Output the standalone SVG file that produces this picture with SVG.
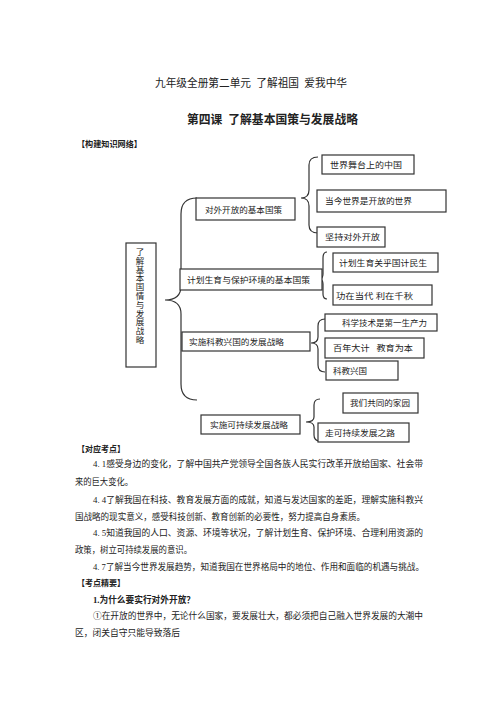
<svg xmlns="http://www.w3.org/2000/svg" width="500" height="707" viewBox="0 0 500 707">
<style>
text{font-family:"Liberation Serif","Noto Sans CJK SC",serif;fill:#222;}
.t{font-size:8.5px;}
.b{font-weight:bold;}
.box{fill:#fff;stroke:#333;stroke-width:1.2;}
.br{fill:none;stroke:#333;stroke-width:1.2;}
.p{font-size:8.8px;}
</style>
<rect width="500" height="707" fill="#fff"/>
<g id="title">
<text x="155" y="87" font-size="11" textLength="192" lengthAdjust="spacingAndGlyphs" xml:space="preserve">九年级全册第二单元  了解祖国  爱我中华</text>
<text x="187" y="124" font-size="12" class="b" textLength="171" lengthAdjust="spacingAndGlyphs" xml:space="preserve">第四课  了解基本国策与发展战略</text>
<text x="77" y="147" font-size="8.5" class="b" textLength="65" lengthAdjust="spacingAndGlyphs">【构建知识网络】</text>
</g>
<g id="connectors">
<path class="br" d="M197,198 Q181,198 181,214 L181,286 Q181,300 165,300 Q181,300 181,314 L181,384 Q181,400 197,400"/>
<path class="br" d="M318,157 Q309,157 309,165 L309,190 Q309,198 301,198 Q309,198 309,206 L309,225 Q309,233 318,233"/>
<path class="br" d="M327,252 Q323,252 323,258 L323,274 Q323,279 319,279 Q323,279 323,284 L323,294 Q323,299 327,299"/>
<path class="br" d="M325,319 Q318,319 318,326 L318,337 Q318,343 311,343 Q318,343 318,349 L318,365 Q318,372 325,372"/>
<path class="br" d="M320,399 Q314,399 314,405 L314,417 Q314,422 306,422 Q314,422 314,427 L314,435 Q314,441 320,441"/>
</g>
<g id="root">
<rect class="box" x="126" y="243" width="30" height="124"/>
<text class="t" text-anchor="middle"><tspan x="140" y="255">了</tspan><tspan x="140" dy="8.8">解</tspan><tspan x="140" dy="8.8">基</tspan><tspan x="140" dy="8.8">本</tspan><tspan x="140" dy="8.8">国</tspan><tspan x="140" dy="8.8">情</tspan><tspan x="140" dy="8.8">与</tspan><tspan x="140" dy="8.8">发</tspan><tspan x="140" dy="8.8">展</tspan><tspan x="140" dy="8.8">战</tspan><tspan x="140" dy="8.8">略</tspan></text>
</g>
<g id="n1">
<rect class="box" x="196" y="198" width="99" height="22"/>
<text class="t" x="205" y="213" textLength="77" lengthAdjust="spacingAndGlyphs">对外开放的基本国策</text>
</g>
<g id="n2">
<rect class="box" x="180" y="269" width="142" height="21"/>
<text class="t" x="187" y="283" textLength="123" lengthAdjust="spacingAndGlyphs">计划生育与保护环境的基本国策</text>
</g>
<g id="n3">
<rect class="box" x="182" y="332" width="128" height="19"/>
<text class="t" x="189" y="345" textLength="95" lengthAdjust="spacingAndGlyphs">实施科教兴国的发展战略</text>
</g>
<g id="n4">
<rect class="box" x="201" y="415" width="99" height="19"/>
<text class="t" x="210" y="428" textLength="78" lengthAdjust="spacingAndGlyphs">实施可持续发展战略</text>
</g>
<g id="n1a">
<rect class="box" x="322" y="155" width="92" height="19"/>
<text class="t" x="330" y="168" textLength="72" lengthAdjust="spacingAndGlyphs">世界舞台上的中国</text>
</g>
<g id="n1b">
<rect class="box" x="317" y="190" width="129" height="22"/>
<text class="t" x="325" y="204" textLength="87" lengthAdjust="spacingAndGlyphs">当今世界是开放的世界</text>
</g>
<g id="n1c">
<rect class="box" x="317" y="227" width="68" height="20"/>
<text class="t" x="325" y="240" textLength="55" lengthAdjust="spacingAndGlyphs">坚持对外开放</text>
</g>
<g id="n2a">
<rect class="box" x="333" y="253" width="105" height="19"/>
<text class="t" x="339" y="266" textLength="88" lengthAdjust="spacingAndGlyphs">计划生育关乎国计民生</text>
</g>
<g id="n2b">
<rect class="box" x="333" y="285" width="99" height="20"/>
<text class="t" x="336" y="299" textLength="77" lengthAdjust="spacingAndGlyphs" xml:space="preserve">功在当代 利在千秋</text>
</g>
<g id="n3a">
<rect class="box" x="325" y="314" width="112" height="17"/>
<text class="t" x="342" y="326" textLength="85" lengthAdjust="spacingAndGlyphs">科学技术是第一生产力</text>
</g>
<g id="n3b">
<rect class="box" x="325" y="338" width="99" height="20"/>
<text class="t" x="333" y="351" textLength="80" lengthAdjust="spacingAndGlyphs" xml:space="preserve">百年大计   教育为本</text>
</g>
<g id="n3c">
<rect class="box" x="326" y="361" width="72" height="19"/>
<text class="t" x="333" y="374" textLength="34" lengthAdjust="spacingAndGlyphs">科教兴国</text>
</g>
<g id="n4a">
<rect class="box" x="343" y="393" width="75" height="20"/>
<text class="t" x="350" y="406" textLength="60" lengthAdjust="spacingAndGlyphs">我们共同的家园</text>
</g>
<g id="n4b">
<rect class="box" x="318" y="423" width="91" height="19"/>
<text class="t" x="325" y="436" textLength="70" lengthAdjust="spacingAndGlyphs">走可持续发展之路</text>
</g>
<g id="body">
<text x="77" y="452" font-size="8.5" class="b" textLength="48" lengthAdjust="spacingAndGlyphs">【对应考点】</text>
<text class="p" x="93" y="467" textLength="330" lengthAdjust="spacingAndGlyphs">4. 1感受身边的变化，了解中国共产党领导全国各族人民实行改革开放给国家、社会带</text>
<text class="p" x="75" y="485" textLength="58" lengthAdjust="spacingAndGlyphs">来的巨大变化。</text>
<text class="p" x="93" y="503" textLength="330" lengthAdjust="spacingAndGlyphs">4. 4了解我国在科技、教育发展方面的成就，知道与发达国家的差距，理解实施科教兴</text>
<text class="p" x="75" y="520" textLength="290" lengthAdjust="spacingAndGlyphs">国战略的现实意义，感受科技创新、教育创新的必要性，努力提高自身素质。</text>
<text class="p" x="93" y="536" textLength="330" lengthAdjust="spacingAndGlyphs">4. 5知道我国的人口、资源、环境等状况，了解计划生育、保护环境、合理利用资源的</text>
<text class="p" x="75" y="553" textLength="117" lengthAdjust="spacingAndGlyphs">政策，树立可持续发展的意识。</text>
<text class="p" x="93" y="570" textLength="331" lengthAdjust="spacingAndGlyphs">4. 7了解当今世界发展趋势，知道我国在世界格局中的地位、作用和面临的机遇与挑战。</text>
<text x="77" y="586" font-size="8.5" class="b" textLength="48" lengthAdjust="spacingAndGlyphs">【考点精要】</text>
<text x="93" y="603" font-size="9" class="b" textLength="102" lengthAdjust="spacingAndGlyphs">1.为什么要实行对外开放？</text>
<text class="p" x="93" y="619" textLength="330" lengthAdjust="spacingAndGlyphs">①在开放的世界中，无论什么国家，要发展壮大，都必须把自己融入世界发展的大潮中</text>
<text class="p" x="75" y="636" textLength="105" lengthAdjust="spacingAndGlyphs">区，闭关自守只能导致落后</text>
</g>
</svg>
